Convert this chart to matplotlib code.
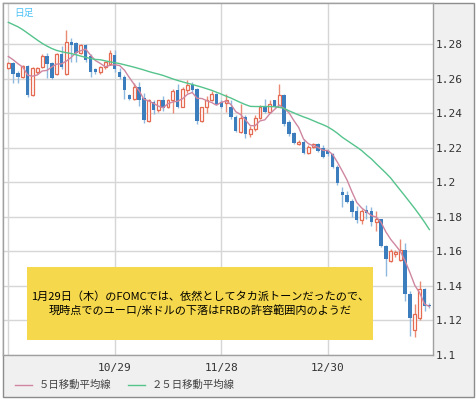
import matplotlib
matplotlib.use("Agg")
import matplotlib.pyplot as plt
from matplotlib.patches import Rectangle
from matplotlib.lines import Line2D
import numpy as np
import pandas as pd

plt.rcParams['font.family'] = ['Noto Sans CJK JP', 'DejaVu Sans']

# daily EUR/USD candles, 2014-09-29 .. 2015-01-28
dates = pd.bdate_range("2014-09-29", "2015-01-28")

opens = [1.2665, 1.2692, 1.2634, 1.2614, 1.2672, 1.2506, 1.2639, 1.2668, 1.2730, 1.2690,
         1.2626, 1.2745, 1.2630, 1.2813, 1.2806, 1.2750, 1.2794, 1.2730, 1.2655, 1.2639,
         1.2668, 1.2688, 1.2740, 1.2640, 1.2612, 1.2505, 1.2485, 1.2555, 1.2490, 1.2355,
         1.2465, 1.2417, 1.2475, 1.2436, 1.2475, 1.2533, 1.2440, 1.2533, 1.2562, 1.2543,
         1.2355, 1.2436, 1.2477, 1.2510, 1.2465, 1.2460, 1.2440, 1.2382, 1.2291, 1.2382,
         1.2282, 1.2311, 1.2375, 1.2440, 1.2407, 1.2475, 1.2440, 1.2504, 1.2350, 1.2285,
         1.2222, 1.2237, 1.2173, 1.2205, 1.2222, 1.2200, 1.2185, 1.2162, 1.2092, 1.1944,
         1.1930, 1.1895, 1.1837, 1.1783, 1.1840, 1.1833, 1.1773, 1.1787, 1.1634, 1.1547,
         1.1585, 1.1551, 1.1609, 1.1355, 1.1145, 1.1215, 1.1383, 1.1290]
highs = [1.2700, 1.2697, 1.2645, 1.2678, 1.2678, 1.2668, 1.2668, 1.2745, 1.2750, 1.2700,
         1.2748, 1.2790, 1.2881, 1.2835, 1.2812, 1.2800, 1.2805, 1.2745, 1.2665, 1.2675,
         1.2702, 1.2770, 1.2765, 1.2665, 1.2625, 1.2510, 1.2575, 1.2585, 1.2520, 1.2485,
         1.2480, 1.2480, 1.2500, 1.2485, 1.2543, 1.2572, 1.2555, 1.2591, 1.2585, 1.2550,
         1.2440, 1.2500, 1.2530, 1.2520, 1.2475, 1.2510, 1.2475, 1.2390, 1.2452, 1.2390,
         1.2330, 1.2390, 1.2450, 1.2485, 1.2480, 1.2480, 1.2568, 1.2510, 1.2360, 1.2290,
         1.2245, 1.2249, 1.2215, 1.2228, 1.2230, 1.2215, 1.2195, 1.2170, 1.2100, 1.1975,
         1.1953, 1.1905, 1.1866, 1.1845, 1.1872, 1.1860, 1.1837, 1.1790, 1.1640, 1.1615,
         1.1610, 1.1673, 1.1647, 1.1370, 1.1297, 1.1431, 1.1390, 1.1300]
lows = [1.2660, 1.2574, 1.2574, 1.2605, 1.2497, 1.2500, 1.2630, 1.2665, 1.2608, 1.2600,
        1.2620, 1.2660, 1.2625, 1.2700, 1.2700, 1.2745, 1.2700, 1.2610, 1.2630, 1.2630,
        1.2660, 1.2680, 1.2640, 1.2600, 1.2485, 1.2475, 1.2480, 1.2445, 1.2345, 1.2350,
        1.2395, 1.2410, 1.2415, 1.2430, 1.2400, 1.2430, 1.2435, 1.2520, 1.2525, 1.2340,
        1.2350, 1.2400, 1.2470, 1.2450, 1.2430, 1.2410, 1.2370, 1.2295, 1.2285, 1.2260,
        1.2265, 1.2300, 1.2370, 1.2400, 1.2400, 1.2430, 1.2435, 1.2325, 1.2270, 1.2220,
        1.2215, 1.2162, 1.2165, 1.2200, 1.2175, 1.2140, 1.2155, 1.2085, 1.1985, 1.1856,
        1.1880, 1.1802, 1.1765, 1.1760, 1.1790, 1.1750, 1.1721, 1.1625, 1.1460, 1.1540,
        1.1570, 1.1545, 1.1315, 1.1112, 1.1102, 1.1205, 1.1257, 1.1270]
closes = [1.2692, 1.2626, 1.2614, 1.2672, 1.2506, 1.2661, 1.2662, 1.2730, 1.2688, 1.2608,
          1.2742, 1.2668, 1.2813, 1.2794, 1.2750, 1.2794, 1.2711, 1.2639, 1.2638, 1.2668,
          1.2697, 1.2750, 1.2660, 1.2612, 1.2533, 1.2485, 1.2555, 1.2480, 1.2360, 1.2480,
          1.2417, 1.2475, 1.2433, 1.2479, 1.2529, 1.2440, 1.2543, 1.2562, 1.2533, 1.2359,
          1.2436, 1.2479, 1.2510, 1.2456, 1.2440, 1.2475, 1.2378, 1.2301, 1.2375, 1.2282,
          1.2311, 1.2375, 1.2440, 1.2407, 1.2452, 1.2440, 1.2504, 1.2340, 1.2282, 1.2228,
          1.2237, 1.2170, 1.2207, 1.2220, 1.2184, 1.2150, 1.2165, 1.2092, 1.1995, 1.1930,
          1.1885, 1.1827, 1.1783, 1.1837, 1.1822, 1.1770, 1.1787, 1.1634, 1.1557, 1.1605,
          1.1598, 1.1609, 1.1355, 1.1215, 1.1238, 1.1383, 1.1286, 1.1283]

# closes just before the visible window (for the 5-day average)
earlier_closes = [1.2721, 1.2729, 1.2772, 1.2736]

# 25-day moving average
ma25 = [1.2928, 1.2915, 1.2902, 1.2885, 1.2865, 1.2845, 1.2825, 1.2806, 1.2790, 1.2776,
        1.2765, 1.2758, 1.2752, 1.2747, 1.2740, 1.2732, 1.2725, 1.2718, 1.2713, 1.2711,
        1.2705, 1.2699, 1.2694, 1.2689, 1.2682, 1.2675, 1.2668, 1.2660, 1.2652, 1.2643,
        1.2635, 1.2628, 1.2620, 1.2610, 1.2600, 1.2591, 1.2583, 1.2575, 1.2568, 1.2560,
        1.2552, 1.2543, 1.2534, 1.2523, 1.2512, 1.2500, 1.2489, 1.2476, 1.2463, 1.2451,
        1.2441, 1.2440, 1.2440, 1.2440, 1.2440, 1.2439, 1.2436, 1.2429, 1.2415, 1.2403,
        1.2391, 1.2380, 1.2370, 1.2358, 1.2346, 1.2335, 1.2322, 1.2305, 1.2285, 1.2262,
        1.2243, 1.2224, 1.2205, 1.2185, 1.2160, 1.2137, 1.2109, 1.2082, 1.2055, 1.2026,
        1.1990, 1.1955, 1.1920, 1.1884, 1.1848, 1.1810, 1.1770, 1.1727]

tick_dates = ["2014-09-29", "2014-10-29", "2014-11-28", "2014-12-30"]
tick_labels = ["", "10/29", "11/28", "12/30"]
y_ticks = [1.10, 1.12, 1.14, 1.16, 1.18, 1.20, 1.22, 1.24, 1.26, 1.28]
legend_labels = ["５日移動平均線", "２５日移動平均線"]
note = ("1月29日（木）のFOMCでは、依然としてタカ派トーンだったので、\n"
        "現時点でのユーロ/米ドルの下落はFRBの許容範囲内のようだ")

UP_EDGE, UP_WICK = "#e46a52", "#ea8a74"
DN_BODY, DN_WICK = "#3b7dbd", "#8fb8df"
MA5_COL, MA25_COL = "#cf86a0", "#55c38c"

W, H = 476, 399
fig = plt.figure(figsize=(W / 100, H / 100), dpi=100)
fig.patches.append(Rectangle((2.5 / W, 2.5 / H), 471 / W, 394 / H, transform=fig.transFigure,
                             facecolor="#f0f0f0", edgecolor="#8c8c8c", lw=1, zorder=-5))
ax = fig.add_axes([3 / W, 44 / H, 430 / W, 352 / H])
ax.set_facecolor("white")

x = np.arange(len(dates))
o, h, l, c = (np.array(v) for v in (opens, highs, lows, closes))
up = c >= o

ax.vlines(x[up], l[up], h[up], color=UP_WICK, lw=1, zorder=3)
ax.vlines(x[~up], l[~up], h[~up], color=DN_WICK, lw=1, zorder=3)
ax.bar(x[up], np.maximum(c[up] - o[up], 0.0003), bottom=o[up], width=0.6,
       facecolor="white", edgecolor=UP_EDGE, lw=0.9, zorder=4)
ax.bar(x[~up], np.maximum(o[~up] - c[~up], 0.0003), bottom=c[~up], width=0.7,
       color=DN_BODY, lw=0, zorder=4)

ma5 = pd.Series(earlier_closes + closes).rolling(5).mean().to_numpy()[len(earlier_closes):]
ax.plot(x, ma5, color=MA5_COL, lw=1, zorder=5)
ax.plot(x, ma25, color=MA25_COL, lw=1, zorder=5)

ax.set_xlim(-1.1, 87.75)
ax.set_ylim(1.1, 1.304)
tick_idx = [dates.get_loc(pd.Timestamp(d)) for d in tick_dates]
ax.set_xticks(tick_idx)
ax.set_xticklabels(tick_labels)
ax.set_yticks(y_ticks)
ax.set_yticklabels([f"{v:g}" for v in y_ticks])
ax.yaxis.tick_right()
ax.tick_params(length=0, labelsize=8, labelcolor="#333333", labelfontfamily="DejaVu Sans Mono")
ax.tick_params(axis="x", pad=6)
ax.tick_params(axis="y", pad=2)
ax.grid(True, color="#d6d6d6", lw=1, zorder=0)
ax.set_axisbelow(True)
for s in ax.spines.values():
    s.set_color("#a0a0a0")
    s.set_linewidth(1)

fig.text(24 / W, 1 - 13 / H, "日足", color="#4fc3f7", fontsize=7, ha="center", va="center")

fig.add_artist(Rectangle((27 / W, 1 - 340 / H), 346 / W, 73 / H, transform=fig.transFigure,
                         facecolor="#f5d84b", edgecolor="none", zorder=10))
fig.text(200 / W, 1 - 304 / H, note, ha="center", va="center", fontsize=8,
         linespacing=1.3, color="black", zorder=11)

for lx, tx, col, lab in [(15, 39, MA5_COL, legend_labels[0]), (128, 152, MA25_COL, legend_labels[1])]:
    fig.add_artist(Line2D([lx / W, (lx + 17) / W], [1 - 385 / H] * 2, color=col, lw=1))
    fig.text(tx / W, 1 - 385 / H, lab, fontsize=7.5, va="center", color="#404040")

fig.savefig("out.png", dpi=100)
